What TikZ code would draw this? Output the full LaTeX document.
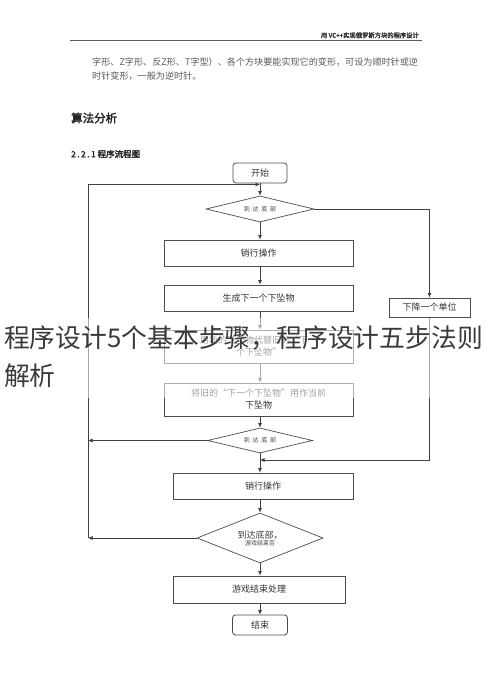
\documentclass[tikz,border=0pt]{standalone}
\usepackage{fontspec}
\setmainfont{Noto Sans CJK SC}
\newfontfamily\cjkbold[FakeBold=2.5]{Noto Sans CJK SC}
\usetikzlibrary{shapes.geometric,arrows.meta}
\definecolor{ink}{HTML}{3A3A3A}
\definecolor{pgray}{HTML}{5A5A5A}
\tikzset{
  conn/.style={draw=black!75, line width=0.7pt},
  arr/.style={conn, -{Latex[length=4.5pt,width=4pt]}},
  procbox/.style={draw=black!70, line width=0.8pt, rectangle, inner sep=0pt,
    font=\fontsize{9}{12}\selectfont, text=black!80, align=center},
  termbox/.style={procbox, rounded corners=3pt},
  decbox/.style={draw=black!70, line width=0.7pt, diamond, inner sep=0pt, aspect=4,
    font=\fontsize{6}{7}\selectfont, text=black!75, align=center},
}
\begin{document}
\begin{tikzpicture}[x=1pt,y=-1pt]
\useasboundingbox (0,0) rectangle (490,697);
\fill[white] (0,0) rectangle (490,697);
% header
\draw[black!65, line width=0.8pt] (70,40) -- (422,40);
\node[anchor=south east, inner sep=0pt, font=\cjkbold\fontsize{6.3}{7}\selectfont, text=black!80] (hdr) at (419,38.5) {用 VC++实现俄罗斯方块的程序设计};
% paragraph
\node[anchor=west, inner sep=0pt, font=\fontsize{9.1}{11}\selectfont, text=pgray] (p1) at (92,62) {字形、Z字形、反Z形、T字型）、各个方块要能实现它的变形，可设为顺时针或逆};
\node[anchor=west, inner sep=0pt, font=\fontsize{9.1}{11}\selectfont, text=pgray] (p2) at (92,76) {时针变形，一般为逆时针。};
\node[anchor=west, inner sep=0pt, font=\cjkbold\fontsize{11.5}{13}\selectfont, text=black!85] (h1) at (71,118) {算法分析};
\node[anchor=west, inner sep=0pt, font=\cjkbold\fontsize{8.5}{10}\selectfont, text=black!85] (h2) at (71,154) {2\,.\,2\,.\,1 程序流程图};
% flowchart nodes
\node[termbox, minimum width=54pt, minimum height=20pt] (start) at (260,173) {开始};
\node[decbox, minimum width=108pt, minimum height=26pt] (d1) at (260,209) {到\ \ 达\ \ 底\ \ 部};
\node[procbox, minimum width=189pt, minimum height=26pt] (b1) at (258.5,253) {销行操作};
\node[procbox, minimum width=189pt, minimum height=26pt] (b2) at (258.5,298) {生成下一个下坠物};
\node[procbox, minimum width=189pt, minimum height=33pt] (b3) at (258.5,346.5) {用新的下坠物代替旧的“下一\\个下坠物”};
\node[procbox, minimum width=189pt, minimum height=33pt] (b4) at (258.5,399.5) {将旧的“下一个下坠物”用作当前\\下坠物};
\node[decbox, minimum width=105pt, minimum height=25pt] (d2) at (260,440.5) {到\ \ 达\ \ 底\ \ 部};
\node[procbox, minimum width=180pt, minimum height=26pt] (b5) at (263,486) {销行操作};
\node[decbox, minimum width=126pt, minimum height=50pt] (d3) at (260,538) {{\fontsize{9}{11}\selectfont 到达底部，}\\游戏结束否};
\node[procbox, minimum width=172pt, minimum height=27pt] (b6) at (259,589.5) {游戏结束处理};
\node[termbox, minimum width=55pt, minimum height=20pt] (end) at (260,625) {结束};
\node[procbox, minimum width=81pt, minimum height=19pt] (down) at (429.5,307.5) {下降一个单位};
% helper coordinates
\coordinate (Ltop) at (88,184.5);
\coordinate (Jtop) at (260,184.5);
\coordinate (L2) at (88,440.5);
\coordinate (L3) at (88,538);
\coordinate (R1) at (429.5,209);
\coordinate (R2) at (429.5,460);
\coordinate (J2) at (260,460);
% connectors
\draw[arr] (start.south) -- (d1.north);
\draw[arr] (d1.south) -- (d1.south |- b1.north);
\draw[arr] (d1.south |- b1.south) -- (d1.south |- b2.north);
\draw[arr] (d1.south |- b2.south) -- (d1.south |- b3.north);
\draw[arr] (d1.south |- b3.south) -- (d1.south |- b4.north);
\draw[arr] (d1.south |- b4.south) -- (d2.north);
\draw[arr] (d2.south) -- (d2.south |- b5.north);
\draw[arr] (d2.south |- b5.south) -- (d3.north);
\draw[arr] (d3.south) -- (d3.south |- b6.north);
\draw[arr] (d3.south |- b6.south) -- (end.north);
\draw[arr] (d1.east) -- (R1) -- (down.north);
\draw[arr] (down.south) -- (R2) -- (J2);
\draw[arr] (d2.west) -- (L2);
\draw[arr] (d3.west) -- (L3);
\draw[arr] (L3) -- (Ltop) -- (Jtop);
% faded band and overlay title
\fill[white, fill opacity=0.55] (0,318) rectangle (490,398);
\node[anchor=west, inner sep=0pt, font=\fontsize{25.8}{30}\selectfont, text=ink] (t1) at (4,338) {程序设计5个基本步骤，程序设计五步法则};
\node[anchor=west, inner sep=0pt, font=\fontsize{25.8}{30}\selectfont, text=ink] (t2) at (4,376) {解析};
\end{tikzpicture}
\end{document}
